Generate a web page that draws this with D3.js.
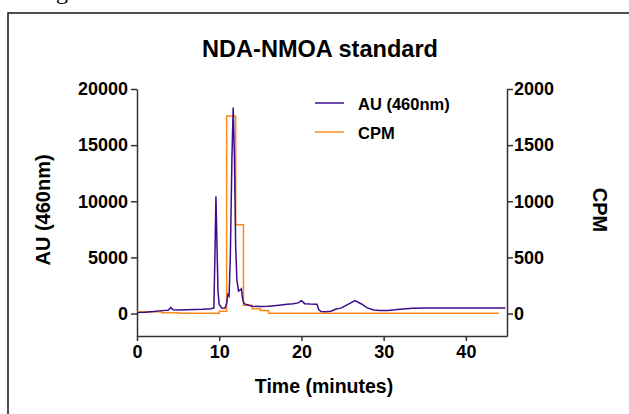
<!DOCTYPE html>
<meta charset="utf-8">
<script src="https://d3js.org/d3.v7.min.js"></script>
<style>
  body { margin: 0; background: #fff; }
  text { font-family: "Liberation Sans", Arial, sans-serif; font-weight: bold; fill: #000; }
</style>
<body>
<div id="chart"></div>
<script>
// AU (460nm) trace, minutes vs absorbance units
var auTime = [0, 1, 2, 3, 3.8, 4.1, 4.4, 5, 6, 7, 8, 9, 9.35, 9.5, 9.6, 9.7, 9.85, 10, 10.3, 10.7,
  10.9, 11.05, 11.2, 11.35, 11.55, 11.7, 11.85, 12, 12.15, 12.35, 12.55, 12.7, 12.85, 13, 13.3,
  14, 15, 16, 17, 18, 19, 19.6, 20, 20.4, 21, 21.9, 22.1, 22.4, 23, 23.6, 24.2, 24.8, 25.5, 26.5,
  27.3, 28, 28.8, 29.5, 30.5, 32, 33.5, 35, 44.8]
var auValue = [100, 120, 180, 260, 300, 530, 330, 320, 340, 360, 380, 420, 500, 6000, 10450, 7000, 2000, 800, 500, 480,
  900, 1700, 1550, 5000, 14000, 18350, 14000, 6000, 3000, 2000, 2100, 2200, 1300, 900, 800,
  650, 620, 650, 720, 800, 880, 950, 1150, 880, 850, 830, 350, 180, 150, 200, 400, 480, 750, 1150,
  850, 500, 320, 270, 280, 380, 470, 500, 500]

// CPM per fraction (step starts)
var cpmTime = [0, 3, 5, 10, 10.9, 12, 12.95, 14, 15, 16, 44]
var cpmValue = [15, 8, 3, 20, 1760, 790, 75, 42, 27, 3, 3]

var xTicks = [0, 10, 20, 30, 40]
var auTicks = [0, 5000, 10000, 15000, 20000]
var cpmTicks = [0, 500, 1000, 1500, 2000]

var W = 629, H = 414
var plotL = 137, plotR = 507, plotT = 89, plotB = 336

var svg = d3.select("#chart").append("svg").attr("width", W).attr("height", H)

// frame of the figure panel
svg.append("rect")
  .attr("x", 8).attr("y", 13).attr("width", 700).attr("height", 500)
  .attr("fill", "none").attr("stroke", "#222").attr("stroke-width", 1.6)
svg.append("text").attr("x", 56).attr("y", -1)
  .style("font-family", "Liberation Serif").style("font-weight", "normal")
  .attr("font-size", 24).text("g")

var x = d3.scaleLinear().domain([0, 45]).range([plotL, plotR])
var yA = d3.scaleLinear().domain([-2000, 20000]).range([plotB, plotT])
var yC = d3.scaleLinear().domain([-200, 2000]).range([plotB, plotT])

function styleAxis(g) {
  g.select(".domain").attr("stroke", "#333").attr("stroke-width", 1.5)
  g.selectAll(".tick line").attr("stroke", "#333").attr("stroke-width", 1.5)
  g.selectAll(".tick text").attr("font-size", 18).attr("font-family", null).style("font-weight", "bold")
}

svg.append("g").attr("transform", "translate(0," + plotB + ")")
  .call(d3.axisBottom(x).tickValues(xTicks).tickSize(5).tickSizeOuter(0).tickPadding(4))
  .call(styleAxis)

svg.append("g").attr("transform", "translate(" + plotL + ",0)")
  .call(d3.axisLeft(yA).tickValues(auTicks).tickFormat(d3.format("d")).tickSize(6).tickSizeOuter(0).tickPadding(3))
  .call(styleAxis)

svg.append("g").attr("transform", "translate(" + plotR + ",0)")
  .call(d3.axisRight(yC).tickValues(cpmTicks).tickFormat(d3.format("d")).tickSize(6).tickSizeOuter(0).tickPadding(1))
  .call(styleAxis)

var auData = auTime.map(function (t, i) { return [t, auValue[i]] })
var cpmData = cpmTime.map(function (t, i) { return [t, cpmValue[i]] })

var purple = "#3d0c8c", orange = "#ff8a1c"

svg.append("path").datum(cpmData)
  .attr("fill", "none").attr("stroke", orange).attr("stroke-width", 1.5)
  .attr("d", d3.line().x(function (d) { return x(d[0]) }).y(function (d) { return yC(d[1]) }).curve(d3.curveStepAfter))

svg.append("path").datum(auData)
  .attr("fill", "none").attr("stroke", purple).attr("stroke-width", 1.5)
  .attr("d", d3.line().x(function (d) { return x(d[0]) }).y(function (d) { return yA(d[1]) }))

// titles
svg.append("text").attr("x", 320).attr("y", 57).attr("text-anchor", "middle")
  .attr("font-size", 24).attr("textLength", 236).attr("lengthAdjust", "spacingAndGlyphs")
  .text("NDA-NMOA standard")
svg.append("text").attr("x", 324).attr("y", 393).attr("text-anchor", "middle")
  .attr("font-size", 19.5).text("Time (minutes)")
svg.append("text").attr("transform", "translate(50,210) rotate(-90)").attr("text-anchor", "middle")
  .attr("font-size", 20).text("AU (460nm)")
svg.append("text").attr("transform", "translate(593,210) rotate(90)").attr("text-anchor", "middle")
  .attr("font-size", 20).text("CPM")

// legend
var legend = [["AU (460nm)", purple, 103], ["CPM", orange, 132]]
legend.forEach(function (l) {
  svg.append("line").attr("x1", 315).attr("x2", 344).attr("y1", l[2]).attr("y2", l[2])
    .attr("stroke", l[1]).attr("stroke-width", 1.5)
  svg.append("text").attr("x", 358).attr("y", l[2] + 6.5).attr("font-size", 16.5).text(l[0])
})
</script>
</body>
